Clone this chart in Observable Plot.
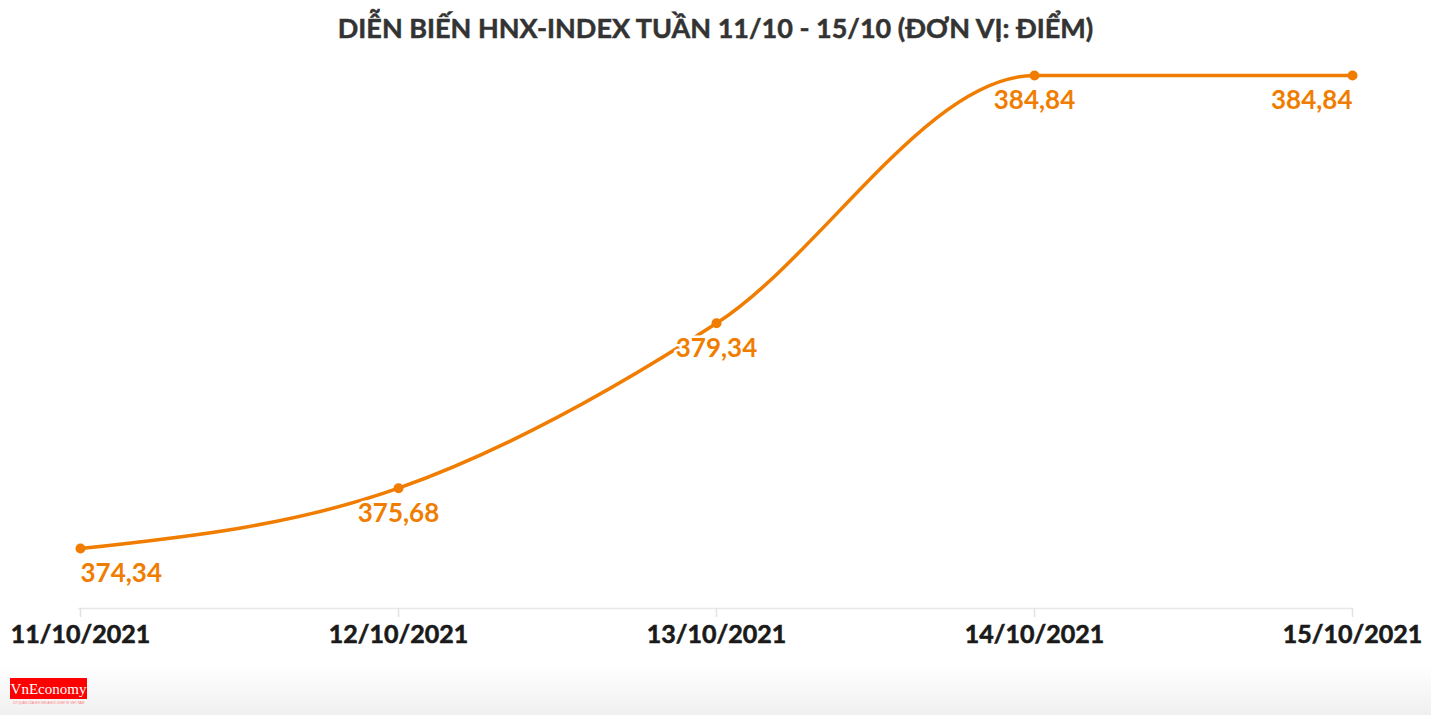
<!DOCTYPE html>
<html>
<head>
<meta charset="utf-8">
<script src="https://cdn.jsdelivr.net/npm/d3@7"></script>
<script src="https://cdn.jsdelivr.net/npm/@observablehq/plot@0.6"></script>
<style>
  html, body { margin: 0; padding: 0; background: #fff; }
  body { width: 1431px; height: 715px; position: relative; overflow: hidden; font-family: Lato, "Noto Sans", sans-serif; }
  #title { position: absolute; left: 0; top: 0; width: 1431px; height: 56px; line-height: 56px; text-align: center;
           font-family: Lato, sans-serif; font-weight: 700; font-size: 27px; color: #333; -webkit-text-stroke: 0.5px #333; }
  #chart { position: absolute; left: 0; top: 56px; }
  #shade { position: absolute; left: 0; top: 665px; width: 1431px; height: 50px;
           background: linear-gradient(to bottom, rgba(255,255,255,0), rgba(238,238,238,0.9)); }
  #logo { position: absolute; left: 10px; top: 678px; width: 77px; height: 21px; background: #ff0000; color: #fff;
          font-family: "Liberation Serif", serif; font-size: 15px; line-height: 23px; text-align: center; }
  #logo small { position: absolute; left: 0; top: 23px; width: 77px; font-size: 3px; line-height: 4px; color: #f77; white-space: nowrap; overflow: hidden; font-family: "Liberation Sans", sans-serif; }
  #chart svg g[aria-label="x-axis tick label"] text { stroke: #1a1a1a; stroke-width: 0.6px; }
</style>
</head>
<body>
<div id="title">DIỄN BIẾN HNX-INDEX TUẦN 11/10 - 15/10 (ĐƠN VỊ: ĐIỂM)</div>
<div id="chart"></div>
<div id="shade"></div>
<div id="logo">VnEconomy<small>CƠ QUAN CỦA HỘI KHOA HỌC KINH TẾ VIỆT NAM</small></div>
<script>
const dates = ["11/10/2021", "12/10/2021", "13/10/2021", "14/10/2021", "15/10/2021"];
const values = [374.34, 375.68, 379.34, 384.84, 384.84];
const labels = ["374,34", "375,68", "379,34", "384,84", "384,84"];
const anchors = ["start", "middle", "middle", "middle", "end"];

const data = dates.map((d, i) => ({date: d, value: values[i], label: labels[i], anchor: anchors[i]}));
const orange = "#f07d00";

const chart = Plot.plot({
  width: 1431,
  height: 610,
  marginLeft: 78,
  marginRight: 78,
  marginTop: 19,
  marginBottom: 58,
  style: {background: "transparent", fontFamily: "Lato, sans-serif"},
  x: {type: "point", domain: dates, padding: 0, label: null},
  y: {domain: [373.01, 384.84], axis: null},
  marks: [
    Plot.ruleY([373.01], {stroke: "#e8e8e8", strokeWidth: 1.5}),
    Plot.axisX({tickSize: 9, stroke: "#e2e2e2", strokeWidth: 1.5, tickPadding: 8, fontSize: 25, fontWeight: 700, fill: "#1a1a1a", label: null}),
    Plot.line(data, {x: "date", y: "value", curve: "monotone-x", stroke: orange, strokeWidth: 3.5}),
    Plot.dot(data, {x: "date", y: "value", r: 5, fill: orange}),
    ...anchors.map((a, i) => Plot.text([data[i]], {x: "date", y: "value", text: "label", textAnchor: a, dy: 25,
      fill: orange, fontSize: 26, fontWeight: 700, stroke: "white", strokeWidth: 5, paintOrder: "stroke"}))
  ]
});
document.getElementById("chart").appendChild(chart);
</script>
</body>
</html>
